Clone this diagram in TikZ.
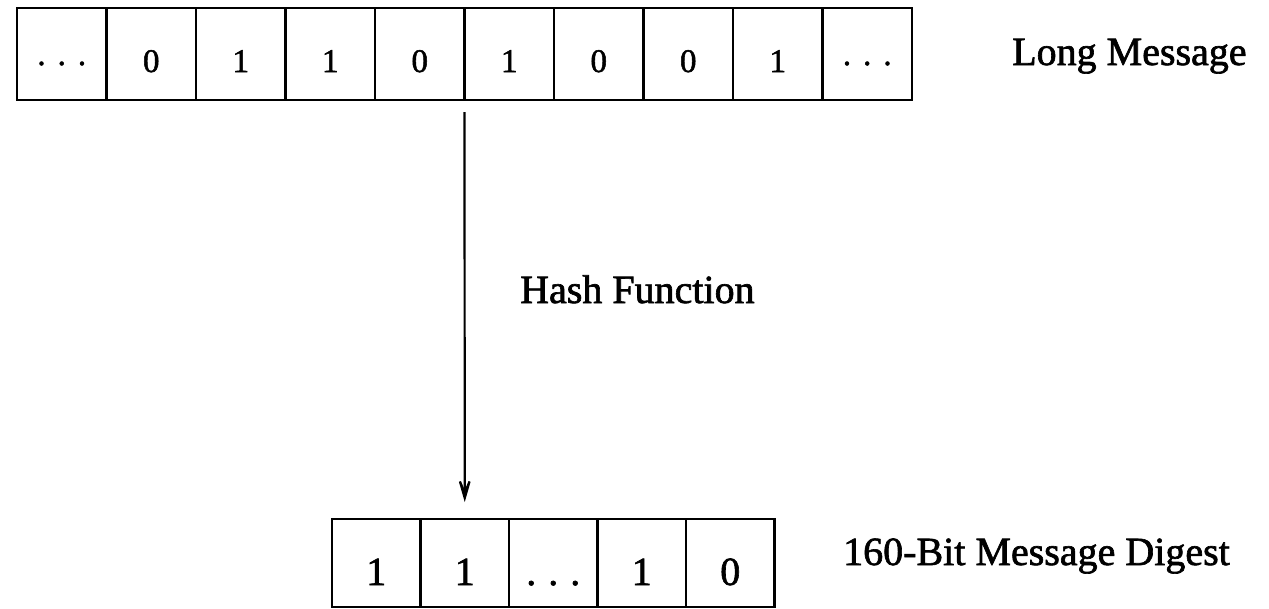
\documentclass[tikz,border=0pt]{standalone}
\usepackage{fontspec}
\setmainfont{Liberation Serif}[FakeBold=1.6]
\usetikzlibrary{arrows.meta,calc}
\newcommand\bitdots{.\hspace{12pt}.\hspace{12pt}.}
\begin{document}
\begin{tikzpicture}[x=1pt,y=1pt,
  msgcell/.style={draw, line width=2.8pt, minimum width=89.5pt, minimum height=92pt,
    inner sep=0pt, outer sep=0pt, font=\fontsize{33}{33}\selectfont,
    text height=36pt, text depth=0pt},
  digcell/.style={draw, line width=2.8pt, minimum width=88.5pt, minimum height=88pt,
    inner sep=0pt, outer sep=0pt, font=\fontsize{40}{40}\selectfont,
    text height=44pt, text depth=0pt},
  lbl/.style={font=\fontsize{40}{40}\selectfont, inner sep=0pt},
  hasharrow/.style={line width=2.2pt, -{Stealth[length=38pt,width=22pt,inset=26pt]}}]
\useasboundingbox (0,0) rectangle (1269,-608);

% long message: ten bit cells
\foreach \t [count=\i] in {{\raisebox{7pt}{\bitdots}},0,1,1,0,1,0,0,1,{\raisebox{7pt}{\bitdots}}}
  \node[msgcell] (m\i) at ({89.5*\i-27.75},-54) {\t};

% digest: five bit cells
\foreach \t [count=\i] in {1,1,\bitdots,1,0}
  \node[digcell] (d\i) at ({88.5*\i+287.75},-563) {\t};

% hash function arrow
\coordinate (hs) at ($(m5.south east)+(0,-12)$);
\coordinate (he) at ($(d2.north)+(0,17)$);
\draw[hasharrow] (hs) -- (he);

% labels
\node[lbl, anchor=base west] (lm) at (1012,-65) {Long Message};
\node[lbl, anchor=base west] (hf) at (520,-303) {Hash Function};
\node[lbl, anchor=base east] (md) at (1230,-565) {160-Bit Message Digest};
\end{tikzpicture}
\end{document}
